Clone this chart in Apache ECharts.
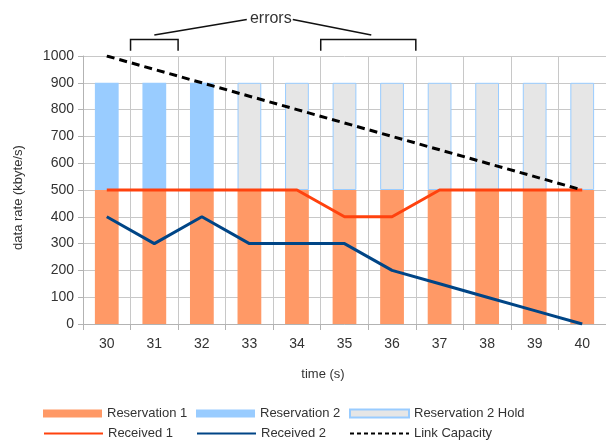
<!DOCTYPE html>
<html>
<head>
<meta charset="utf-8">
<script src="https://cdn.jsdelivr.net/npm/echarts@6/dist/echarts.min.js"></script>
<style>
html,body{margin:0;padding:0;background:#fff;}
#main{width:606px;height:440px;}
</style>
</head>
<body>
<div id="main"></div>
<script>
const categories = ['30','31','32','33','34','35','36','37','38','39','40'];
const reservation1 = [500,500,500,500,500,500,500,500,500,500,500];
const reservation2 = [400,400,400,'-','-','-','-','-','-','-','-'];
const reservation2Hold = ['-','-','-',400,400,400,400,400,400,400,400];
const received1 = [500,500,500,500,500,400,400,500,500,500,500];
const received2 = [400,300,400,300,300,300,200,150,100,50,0];
const linkCapacity = [1000,950,900,850,800,750,700,650,600,550,500];
const yMin = 0, yMax = 1000, yInterval = 100;
// error annotation: category index ranges and heights in data units
const errorGroups = [[1,1],[5,6]];
const bracketTopValue = 1062;
const bracketBottomValue = 1020;
const leaderLowValue = 1078;
const labelValue = 1140;
const labelCategoryPos = 3.45;

const FONT = '"Liberation Sans", Arial, sans-serif';
const chart = echarts.init(document.getElementById('main'), null, {renderer:'canvas'});

const names = ['Reservation 1','Reservation 2','Reservation 2 Hold','Received 1','Received 2','Link Capacity'];
const legendPos = [[43,407],[196,407],[349,407],[43,427],[196,427],[349,427]];
const legends = names.map((n,i)=>{
  const isLine = i>=3;
  const l = {
    data:[{name:n, icon: isLine ? 'inherit' : 'rect'}], left:legendPos[i][0], top:legendPos[i][1], padding:0,
    itemWidth:59, itemHeight: isLine?12:8, itemGap:0,
    selectedMode:false,
    textStyle:{fontFamily:FONT,fontSize:13,color:'#333'}
  };
  if (isLine) {
    l.lineStyle = {width:2};
    if (n === 'Link Capacity') l.lineStyle.type = [4,3];
    l.itemStyle = {color:'rgba(0,0,0,0)', borderColor:'rgba(0,0,0,0)', borderWidth:0, opacity:0};
  }
  return l;
});

const option = {
  animation:false,
  textStyle:{fontFamily:FONT},
  grid:{left:83, top:56, width:525, height:268, containLabel:false},
  legend: legends,
  xAxis:{
    type:'category', data:categories, boundaryGap:true,
    name:'time (s)', nameLocation:'middle', nameGap:44,
    nameTextStyle:{fontFamily:FONT,fontSize:13,color:'#333',padding:[0,43,0,0]},
    axisLine:{lineStyle:{color:'#b3b3b3',width:1}},
    axisTick:{show:true,length:6,lineStyle:{color:'#b3b3b3'}},
    axisLabel:{fontFamily:FONT,fontSize:14,color:'#333',margin:13},
    splitLine:{show:true,lineStyle:{color:'#c8c8c8',width:1}}
  },
  yAxis:{
    type:'value', min:yMin, max:yMax, interval:yInterval,
    name:'data rate (kbyte/s)', nameLocation:'middle', nameGap:58, nameRotate:90,
    nameTextStyle:{fontFamily:FONT,fontSize:13,color:'#333',padding:[0,15,0,0]},
    axisLine:{show:true,lineStyle:{color:'#b3b3b3',width:1}},
    axisTick:{show:true,length:5,lineStyle:{color:'#b3b3b3'}},
    axisLabel:{fontFamily:FONT,fontSize:14,color:'#333',margin:9,formatter:v=>String(v)},
    splitLine:{show:true,lineStyle:{color:'#c8c8c8',width:1}}
  },
  series:[
    {name:'Reservation 1',type:'bar',stack:'r',data:reservation1,barWidth:'50%',
     itemStyle:{color:'#ff9966'}},
    {name:'Reservation 2',type:'bar',stack:'r',data:reservation2,barWidth:'50%',
     itemStyle:{color:'#99ccff'}},
    {name:'Reservation 2 Hold',type:'bar',stack:'r',data:reservation2Hold,barWidth:'50%',
     itemStyle:{color:'#e6e6e6',borderColor:'#99ccff',borderWidth:1}},
    {name:'Received 1',type:'line',data:received1,symbol:'none',z:5,
     lineStyle:{color:'#ff420e',width:3},itemStyle:{color:'#ff420e'}},
    {name:'Received 2',type:'line',data:received2,symbol:'none',z:5,
     lineStyle:{color:'#004586',width:3},itemStyle:{color:'#004586'}},
    {name:'Link Capacity',type:'line',data:linkCapacity,symbol:'none',z:6,
     lineStyle:{color:'#000',width:3,type:[8,5]},itemStyle:{color:'#000'}}
  ]
};
chart.setOption(option);

function px(cat, v){ return chart.convertToPixel({gridIndex:0},[cat, v]); }
const c0 = px(categories[0],0)[0];
const step = px(categories[1],0)[0]-c0;
const yTop = px(categories[0],bracketTopValue)[1];
const yBot = px(categories[0],bracketBottomValue)[1];
const yLow = px(categories[0],leaderLowValue)[1];
const yLab = px(categories[0],labelValue)[1];
const labX = c0 + step*labelCategoryPos;
const graphics = [];
const centers = [];
errorGroups.forEach(g=>{
  const xL = c0 + step*g[0] - step/2;
  const xR = c0 + step*g[1] + step/2;
  centers.push((xL+xR)/2);
  graphics.push({type:'polyline',shape:{points:[[xL,yBot],[xL,yTop],[xR,yTop],[xR,yBot]]},
    style:{stroke:'#111',lineWidth:1.5,fill:null},z:10});
});
graphics.push({type:'line',shape:{x1:centers[0],y1:yLow,x2:labX-24,y2:yLab+1},style:{stroke:'#111',lineWidth:1.5},z:10});
graphics.push({type:'line',shape:{x1:labX+22,y1:yLab+1,x2:centers[1]+3,y2:yLow},style:{stroke:'#111',lineWidth:1.5},z:10});
graphics.push({type:'text',x:labX,y:yLab,style:{text:'errors',fontFamily:FONT,fontSize:16,fill:'#333',align:'center',verticalAlign:'middle'},z:10});
chart.setOption({graphic:graphics});
</script>
</body>
</html>
